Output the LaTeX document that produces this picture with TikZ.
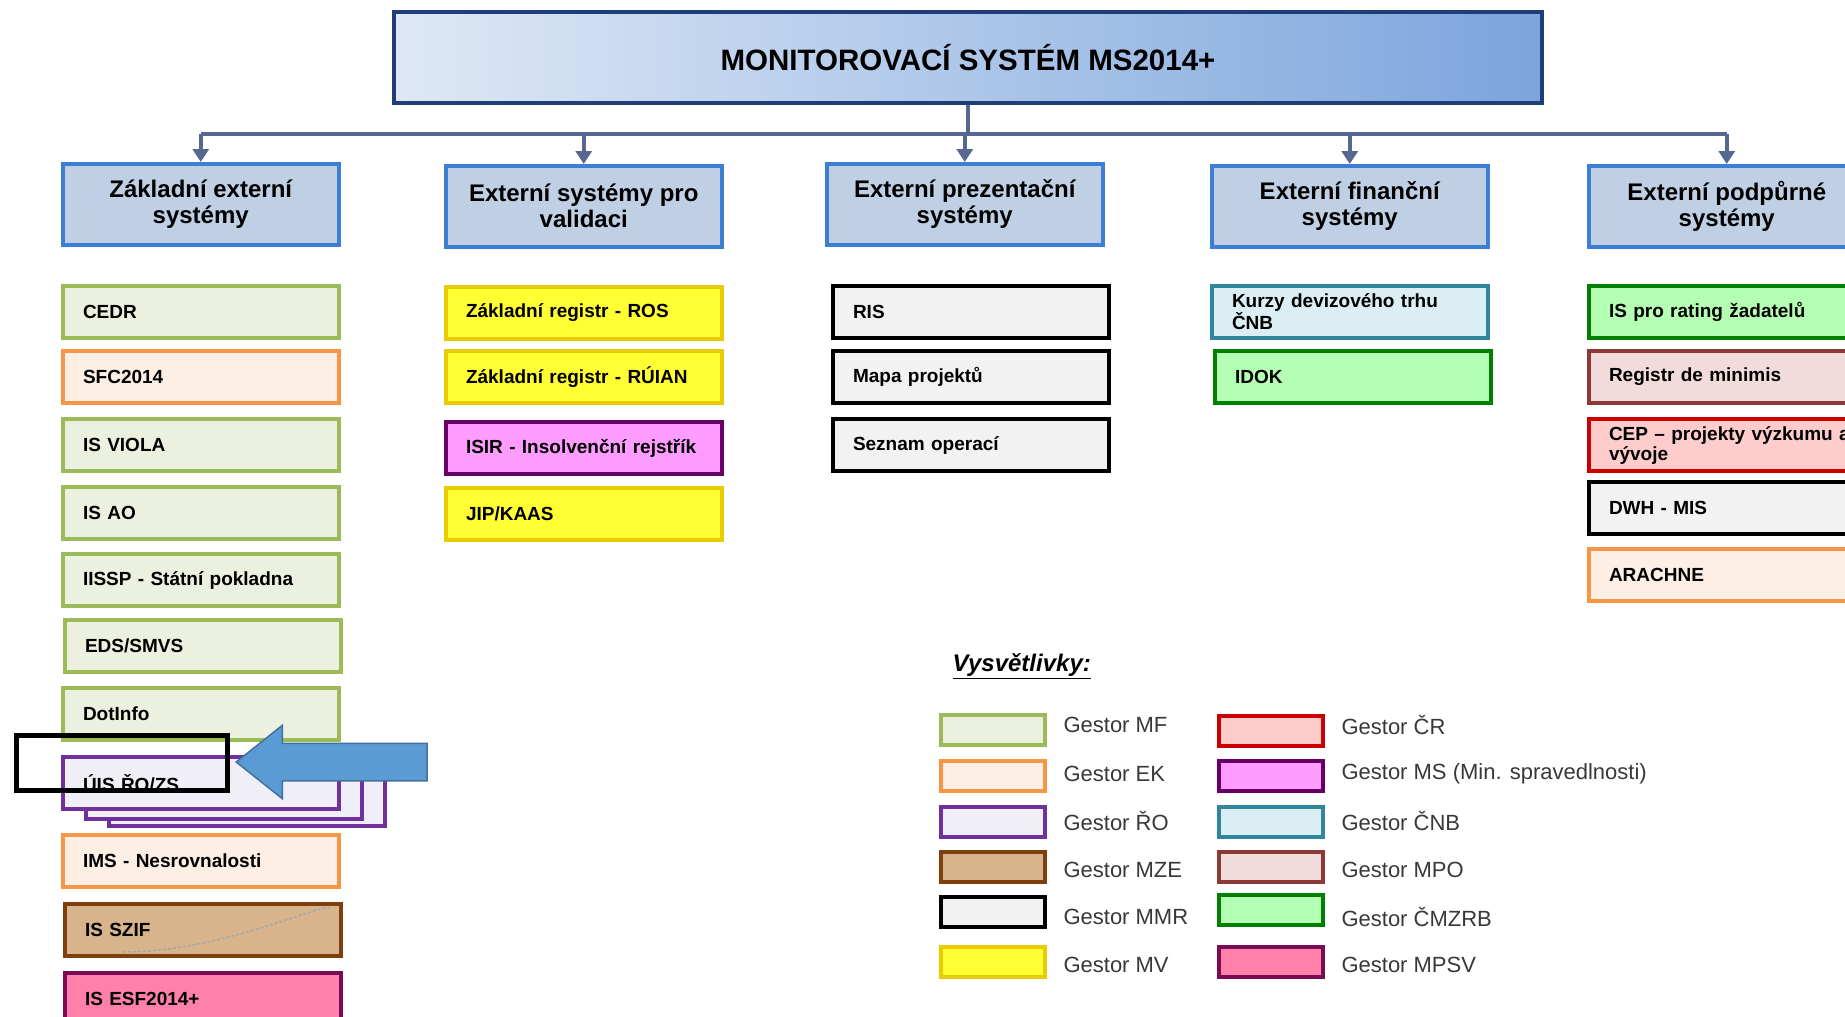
\documentclass[tikz,border=0pt]{standalone}
\usepackage{fontspec}
\setmainfont{Liberation Sans}
\usetikzlibrary{arrows.meta,shapes.arrows}

\definecolor{mfline}{HTML}{9BBB59}   \definecolor{mffill}{HTML}{EBF1DE}
\definecolor{ekline}{HTML}{F79646}   \definecolor{ekfill}{HTML}{FDEFE4}
\definecolor{roline}{HTML}{7030A0}   \definecolor{rofill}{HTML}{F0EEF6}
\definecolor{mzeline}{HTML}{7F3F0C}  \definecolor{mzefill}{HTML}{D8B48C}
\definecolor{mmrfill}{HTML}{F2F2F2}
\definecolor{mvline}{HTML}{E8CC00}   \definecolor{mvfill}{HTML}{FFFF33}
\definecolor{crline}{HTML}{CC0000}   \definecolor{crfill}{HTML}{FFCCCC}
\definecolor{msline}{HTML}{660066}   \definecolor{msfill}{HTML}{FF9CFF}
\definecolor{cnbline}{HTML}{31859C}  \definecolor{cnbfill}{HTML}{DAEEF3}
\definecolor{mpoline}{HTML}{8C3A38}  \definecolor{mpofill}{HTML}{F2DCDB}
\definecolor{cmzline}{HTML}{008000}  \definecolor{cmzfill}{HTML}{B5FFB5}
\definecolor{mpsvline}{HTML}{7A0A55} \definecolor{mpsvfill}{HTML}{FF80AA}
\definecolor{headline}{HTML}{3D7FD4} \definecolor{headfill}{HTML}{BFD0E5}
\definecolor{topline}{HTML}{1F3D78}
\definecolor{topleft}{HTML}{DEE8F5}  \definecolor{topright}{HTML}{7CA5DD}
\definecolor{connline}{HTML}{56688F}
\definecolor{ptrfill}{HTML}{5B9BD5}  \definecolor{ptrline}{HTML}{41719C}

\tikzset{
  mf/.style={draw=mfline, fill=mffill},
  ek/.style={draw=ekline, fill=ekfill},
  ro/.style={draw=roline, fill=rofill},
  mze/.style={draw=mzeline, fill=mzefill},
  mmr/.style={draw=black, fill=mmrfill},
  mv/.style={draw=mvline, fill=mvfill},
  cr/.style={draw=crline, fill=crfill},
  ms/.style={draw=msline, fill=msfill},
  cnb/.style={draw=cnbline, fill=cnbfill},
  mpo/.style={draw=mpoline, fill=mpofill},
  cmz/.style={draw=cmzline, fill=cmzfill},
  mpsv/.style={draw=mpsvline, fill=mpsvfill},
  sysbox/.style={line width=4pt, anchor=north west, minimum height=52pt,
    text width=236pt, inner xsep=20pt, inner ysep=2pt, align=left,
    font=\fontsize{19}{20}\selectfont\bfseries},
  colhead/.style={draw=headline, fill=headfill, line width=3.5pt, anchor=north west,
    minimum width=276pt, minimum height=81pt, align=center,
    font=\fontsize{24}{26}\selectfont\bfseries},
  swatch/.style={line width=4pt, anchor=north west, minimum width=104pt, minimum height=30pt},
  legtext/.style={anchor=west, text=black!78, font=\fontsize{22}{24}\selectfont},
  conn/.style={draw=connline, line width=4pt},
  pointer/.style={single arrow, draw=ptrline, fill=ptrfill, line width=1.5pt,
    shape border rotate=180, anchor=tip, minimum height=191pt,
    inner xsep=0pt, inner ysep=18pt, single arrow head extend=18pt,
    single arrow tip angle=77}
}

\begin{document}
\begin{tikzpicture}[x=1pt, y=-1pt]
  \useasboundingbox (0,0) rectangle (1845,1017);

  \node[draw=topline, line width=4pt, left color=topleft, right color=topright,
        anchor=north west, minimum width=1148pt, minimum height=91pt, text depth=0pt,
        font=\fontsize{29.5}{30}\selectfont\bfseries] (ms) at (392,10) {MONITOROVACÍ SYSTÉM MS2014+};

  \node[colhead] (zes) at (61,162) {Základní externí\\systémy};
  \node[colhead] (esv) at (444,164) {Externí systémy pro\\validaci};
  \node[colhead] (eps) at (825,162) {Externí prezentační\\systémy};
  \node[colhead] (efs) at (1210,164) {Externí finanční\\systémy};
  \node[colhead] (epd) at (1587,164) {Externí podpůrné\\systémy};

  \path (ms.south) ++(0,29) coordinate (bus);
  \begin{scope}[conn]
    \draw (ms.south) -- (bus);
    \draw (bus -| zes.north) -- (bus -| epd.north);
  \end{scope}
  \begin{scope}[conn, -{Triangle[width=16pt,length=13pt]}]
    \draw (bus -| zes.north) -- (zes.north);
    \draw (bus -| esv.north) -- (esv.north);
    \draw (bus -| eps.north) -- (eps.north);
    \draw (bus -| efs.north) -- (efs.north);
    \draw (bus -| epd.north) -- (epd.north);
  \end{scope}

  \node[sysbox, mf] (cedr) at (61,284) {CEDR};
  \node[sysbox, ek] (sfc) at (61,349) {SFC2014};
  \node[sysbox, mf] (viola) at (61,417) {IS VIOLA};
  \node[sysbox, mf] (isao) at (61,485) {IS AO};
  \node[sysbox, mf] (iissp) at (61,552) {IISSP - Státní pokladna};
  \node[sysbox, mf] (eds) at (63,618) {EDS/SMVS};
  \node[sysbox, mf] (dotinfo) at (61,686) {DotInfo};
  \node[sysbox, ro] (uis3) at (107,772) {};
  \node[sysbox, ro] (uis2) at (84,765) {};
  \node[sysbox, ro] (uis) at (61,755) {ÚIS ŘO/ZS};
  \node[sysbox, ek] (ims) at (61,833) {IMS - Nesrovnalosti};
  \node[sysbox, mze] (szif) at (63,902) {IS SZIF};
  \draw[black!35, line width=1.5pt, densely dashed] ([xshift=60pt,yshift=6pt]szif.south west)
    .. controls ([xshift=-120pt,yshift=6pt]szif.south east) and ([xshift=-20pt,yshift=0pt]szif.north east) .. ([xshift=-12pt,yshift=-6pt]szif.north east);
  \node[sysbox, mpsv] (esf) at (63,971) {IS ESF2014+};

  \node[draw, line width=5pt, anchor=north west, minimum width=211pt, minimum height=55pt] (hilite) at (14,733) {};
  \node[pointer] (ptr) at (235,762) {};

  \node[sysbox, mv] (ros) at (444,285) {Základní registr - ROS};
  \node[sysbox, mv] (ruian) at (444,349) {Základní registr - RÚIAN};
  \node[sysbox, ms] (isir) at (444,420) {ISIR - Insolvenční rejstřík};
  \node[sysbox, mv] (jip) at (444,486) {JIP/KAAS};

  \node[sysbox, mmr] (ris) at (831,284) {RIS};
  \node[sysbox, mmr] (mapa) at (831,349) {Mapa projektů};
  \node[sysbox, mmr] (seznam) at (831,417) {Seznam operací};

  \node[sysbox, cnb] (kurzy) at (1210,284) {Kurzy devizového trhu\\ČNB};
  \node[sysbox, cmz] (idok) at (1213,349) {IDOK};

  \node[sysbox, cmz] (rating) at (1587,284) {IS pro rating žadatelů};
  \node[sysbox, mpo] (minimis) at (1587,349) {Registr de minimis};
  \node[sysbox, cr, text width=262pt] (cep) at (1587,417) {CEP – projekty výzkumu a\\vývoje};
  \node[sysbox, mmr] (dwh) at (1587,480) {DWH - MIS};
  \node[sysbox, ek] (arachne) at (1587,547) {ARACHNE};

  \node[anchor=west, font=\fontsize{24}{26}\selectfont\bfseries\itshape] (legend) at (949,666) {\underline{Vysvětlivky:}};

  \node[swatch, mf] (lmf) at (939,713) {};
  \node[swatch, ek] (lek) at (939,759) {};
  \node[swatch, ro] (lro) at (939,805) {};
  \node[swatch, mze] (lmze) at (939,850) {};
  \node[swatch, mmr] (lmmr) at (939,895) {};
  \node[swatch, mv] (lmv) at (939,945) {};
  \node[legtext] (tmf) at (1060,725) {Gestor MF};
  \node[legtext] (tek) at (1060,774) {Gestor EK};
  \node[legtext] (tro) at (1060,821) {Gestor ŘO};
  \node[legtext] (tmze) at (1060,870) {Gestor MZE};
  \node[legtext] (tmmr) at (1060,917) {Gestor MMR};
  \node[legtext] (tmv) at (1060,965) {Gestor MV};

  \node[swatch, cr] (lcr) at (1217,714) {};
  \node[swatch, ms] (lms) at (1217,759) {};
  \node[swatch, cnb] (lcnb) at (1217,805) {};
  \node[swatch, mpo] (lmpo) at (1217,850) {};
  \node[swatch, cmz] (lcmz) at (1217,893) {};
  \node[swatch, mpsv] (lmpsv) at (1217,945) {};
  \node[legtext] (tcr) at (1338,725) {Gestor ČR};
  \node[legtext] (tms) at (1338,774) {Gestor MS (Min. spravedlnosti)};
  \node[legtext] (tcnb) at (1338,821) {Gestor ČNB};
  \node[legtext] (tmpo) at (1338,870) {Gestor MPO};
  \node[legtext] (tcmz) at (1338,917) {Gestor ČMZRB};
  \node[legtext] (tmpsv) at (1338,965) {Gestor MPSV};
\end{tikzpicture}
\end{document}
